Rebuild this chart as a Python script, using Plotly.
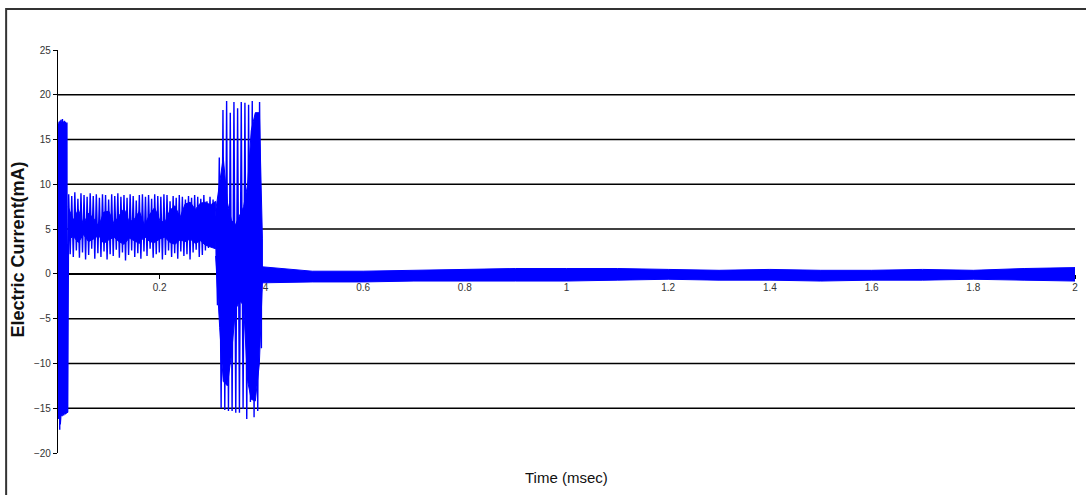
import numpy as np
import plotly.graph_objects as go

# ---------------- data ----------------
# Region A: initial burst, t = 0.000 .. 0.019 ms
burst_tops = [16.2, 16.8, 17.0, 16.9, 17.1, 16.8, 17.2, 16.9, 17.0, 17.3,
              16.9, 17.0, 16.8, 17.1, 16.9, 17.0, 16.8, 16.5, 16.9, 16.7]
burst_bottoms = [-15.4, -16.2, -17.0, -17.4, -16.8, -16.0, -15.8, -15.6, -15.9, -15.7,
                 -15.5, -15.8, -15.6, -15.4, -15.7, -15.5, -15.6, -15.3, -15.5, -15.4]
burst_span = [0.0, 0.019]

# Region B: modulated oscillation, t = 0.021 .. 0.310 ms
mod_tops = [8.9, 8.7, 9.1, 8.4, 9.0, 8.8, 8.6, 9.0, 8.7, 8.9, 8.5, 8.9, 8.8, 8.3, 8.9, 8.7,
            9.0, 8.6, 8.8, 8.5, 8.9, 8.7, 8.2, 8.8, 8.9, 8.6, 8.8, 8.4, 8.9, 8.7, 8.6, 8.9,
            8.8, 8.1, 8.7, 8.5, 8.8, 8.6, 8.3, 8.7, 8.5, 8.8, 8.6, 8.4, 8.8, 8.1, 8.6, 8.3]
mod_bottoms = [2.2, 1.9, 2.6, 1.8, 2.4, 1.6, 2.1, 2.8, 1.7, 2.3, 1.9, 2.5, 1.6, 2.2, 2.0, 2.7,
               1.8, 2.4, 1.5, 2.1, 2.6, 1.9, 2.3, 1.7, 2.5, 2.0, 2.8, 1.8, 2.2, 2.4, 1.6, 2.1,
               2.6, 1.9, 2.3, 1.7, 2.5, 2.0, 2.2, 1.6, 2.4, 2.7, 1.9, 2.1, 2.6, 2.9, 3.2, 3.6]
mod_span = [0.021, 0.308]
core_b_t = [0.02, 0.03, 0.04, 0.05, 0.06, 0.07, 0.08, 0.09, 0.10, 0.11, 0.12, 0.13, 0.14, 0.15, 0.16,
            0.17, 0.18, 0.19, 0.20, 0.21, 0.22, 0.23, 0.24, 0.25, 0.26, 0.27, 0.28, 0.29, 0.30, 0.31]
core_b_hi = [7.5, 6.0, 7.2, 5.5, 6.8, 6.2, 5.3, 6.9, 7.0, 5.6, 6.5, 7.3, 5.8, 6.1, 7.0,
             5.4, 6.6, 7.4, 6.0, 5.7, 7.1, 7.6, 6.3, 7.8, 8.0, 7.2, 7.9, 8.0, 7.7, 8.1]
core_b_lo = [3.8, 4.2, 3.5, 4.4, 3.6, 3.9, 4.3, 3.4, 3.8, 4.1, 3.6, 3.3, 4.0, 3.7, 3.4,
             4.2, 3.6, 3.5, 3.9, 4.1, 3.5, 3.3, 3.8, 3.6, 3.9, 3.4, 3.7, 3.2, 3.0, 2.8]

# Region C: large oscillation, t = 0.31 .. 0.40 ms
big_tops = [6.5, 13.0, 18.3, 19.3, 18.0, 19.2, 18.5, 19.2, 19.1, 18.9, 19.3, 18.0, 19.2]
big_bottoms = [-3.5, -15.0, -15.2, -15.3, -15.3, -15.5, -15.5, -15.1, -16.2, -14.3, -16.0, -15.3, -8.3]
big_span = [0.310, 0.400]
core_c_t = [0.310, 0.318, 0.325, 0.333, 0.341, 0.349, 0.357, 0.365, 0.373, 0.380, 0.388, 0.396, 0.402]
core_c_hi = [7.0, 10.0, 13.0, 8.0, 6.0, 5.5, 6.5, 7.5, 10.0, 16.0, 18.0, 18.0, 4.0]
core_c_lo = [2.0, -6.0, -12.0, -12.5, -9.0, -4.0, -3.0, -3.5, -12.0, -14.0, -14.2, -10.0, -1.0]

# Region D: residual noise band, t = 0.40 .. 2.0 ms
noise_t = [0.40, 0.50, 0.60, 0.70, 0.80, 0.90, 1.00, 1.10, 1.20, 1.30, 1.40, 1.50, 1.60, 1.70, 1.80, 1.90, 2.00]
noise_hi = [0.8, 0.3, 0.3, 0.4, 0.5, 0.6, 0.6, 0.6, 0.5, 0.4, 0.5, 0.4, 0.4, 0.5, 0.4, 0.6, 0.7]
noise_lo = [-1.0, -0.9, -0.9, -0.8, -0.8, -0.8, -0.8, -0.7, -0.6, -0.7, -0.7, -0.8, -0.7, -0.7, -0.6, -0.7, -0.8]

x_ticks = [0.2, 0.4, 0.6, 0.8, 1.0, 1.2, 1.4, 1.6, 1.8, 2.0]
y_ticks = [-20, -15, -10, -5, 0, 5, 10, 15, 20, 25]
grid_levels = [-15, -10, -5, 5, 10, 15, 20]

BLUE = "rgb(0,0,255)"


def zigzag(tops, bottoms, span):
    ys = []
    for a, b in zip(tops, bottoms):
        ys.extend([a, b])
    ts = np.linspace(span[0], span[1], len(ys))
    return list(ts), ys


fig = go.Figure()

# filled cores and noise band
for tt, hi, lo in [(core_b_t, core_b_hi, core_b_lo),
                   (core_c_t, core_c_hi, core_c_lo),
                   (noise_t, noise_hi, noise_lo)]:
    fig.add_trace(go.Scatter(x=list(tt) + list(tt)[::-1], y=list(hi) + list(lo)[::-1],
                             fill="toself", fillcolor=BLUE, mode="lines",
                             line=dict(color=BLUE, width=1), hoverinfo="skip", showlegend=False))

xs, ys = [], []
for tp, bt, sp in [(burst_tops, burst_bottoms, burst_span),
                   (mod_tops, mod_bottoms, mod_span),
                   (big_tops, big_bottoms, big_span)]:
    a, b = zigzag(tp, bt, sp)
    xs += a
    ys += b
xs.append(noise_t[0])
ys.append(0.0)
fig.add_trace(go.Scatter(x=xs, y=ys, mode="lines", line=dict(color=BLUE, width=1.4),
                         showlegend=False))

shapes = []
for g in grid_levels:
    shapes.append(dict(type="line", xref="paper", x0=0, x1=1, yref="y", y0=g, y1=g,
                       line=dict(color="black", width=1.5), layer="below"))
# outer chart border
shapes.append(dict(type="rect", xref="paper", yref="paper", x0=-0.051, x1=1.06, y0=-0.13, y1=1.102,
                   line=dict(color="#333333", width=2), layer="below"))

tick_font = dict(family="Liberation Sans Narrow, Arial Narrow, sans-serif", size=10, color="#333333")

fig.update_layout(
    width=1086, height=495,
    margin=dict(l=58, r=8, t=50, b=42),
    paper_bgcolor="white", plot_bgcolor="white",
    shapes=shapes,
    xaxis=dict(range=[0, 2], tickvals=x_ticks, showgrid=False, zeroline=False,
               showline=True, linecolor="black", linewidth=1.5,
               ticks="outside", ticklen=4, tickcolor="black", tickfont=tick_font,
               anchor="free", position=20 / 45, layer="below traces"),
    yaxis=dict(range=[-20, 25], tickvals=y_ticks, showgrid=False, zeroline=False,
               showline=True, linecolor="black", linewidth=1.2,
               ticks="outside", ticklen=4, tickcolor="black", tickfont=tick_font),
    annotations=[
        dict(text="Time (msec)", xref="paper", yref="paper", x=0.5, y=-0.06,
             showarrow=False, xanchor="center", yanchor="middle",
             font=dict(family="Liberation Sans Narrow, Arial Narrow, sans-serif", size=15, color="#111111")),
        dict(text="<b>Electric Current(mA)</b>", xref="paper", yref="paper", x=-0.039, y=0.506,
             showarrow=False, textangle=-90, xanchor="center", yanchor="middle",
             font=dict(family="Liberation Sans, Arial, sans-serif", size=18, color="#111111")),
    ],
)

fig.write_html("out.html")
